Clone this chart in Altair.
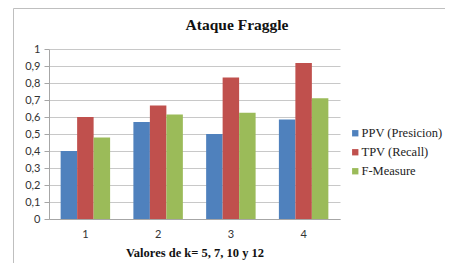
import altair as alt
import pandas as pd

categories = ["1", "2", "3", "4"]
series = ["PPV (Presicion)", "TPV (Recall)", "F-Measure"]
ppv = [0.40, 0.57, 0.50, 0.585]
tpv = [0.60, 0.667, 0.833, 0.917]
fmeasure = [0.48, 0.615, 0.625, 0.71]
colors = ["#4F81BD", "#C0504D", "#9BBB59"]
chart_title = "Ataque Fraggle"

SERIF = "'Liberation Serif', 'Times New Roman', 'DejaVu Serif', serif"

rows = []
for s, vals in zip(series, [ppv, tpv, fmeasure]):
    for c, v in zip(categories, vals):
        rows.append({"k": c, "serie": s, "valor": v})
df = pd.DataFrame(rows)

W, H = 291, 170

bars = alt.Chart(df).mark_bar().encode(
    x=alt.X("k:N", sort=categories,
            scale=alt.Scale(paddingInner=0.32, paddingOuter=0.16),
            axis=alt.Axis(title="Valores de k= 5, 7, 10 y 12", labelAngle=0,
                          labelFont="Lato", labelFontSize=11, labelColor="#333333",
                          labelPadding=9, ticks=False, domainColor="#A6A6A6",
                          titleFont=SERIF, titleFontSize=12.5,
                          titleFontWeight="bold", titleColor="#111111", titlePadding=7)),
    xOffset=alt.XOffset("serie:N", sort=series),
    y=alt.Y("valor:Q", scale=alt.Scale(domain=[0, 1]),
            axis=alt.Axis(title=None, values=[i / 10 for i in range(11)],
                          labelExpr="replace(format(datum.value, '.1~f'), '.', ',')",
                          labelFont="Lato", labelFontSize=11, labelColor="#333333",
                          labelPadding=4, tickSize=5, tickColor="#A6A6A6",
                          domainColor="#A6A6A6", gridColor="#C8C8C8")),
    color=alt.Color("serie:N", sort=series,
                    scale=alt.Scale(domain=series, range=colors),
                    legend=alt.Legend(title=None, orient="none", legendX=300, legendY=78,
                                      symbolType="square", symbolSize=40,
                                      symbolStrokeWidth=0, labelFont=SERIF,
                                      labelFontSize=12.5, labelColor="#222222",
                                      rowPadding=6, labelOffset=0, labelLimit=200)),
)

border = alt.Chart(pd.DataFrame({"a": [0]})).mark_rect(
    fill=None, stroke="#BFBFBF", strokeWidth=1
).encode(
    x=alt.value(-35.5), x2=alt.value(W + 200),
    y=alt.value(-40.5), y2=alt.value(H + 200),
)

title = alt.Chart(pd.DataFrame({"t": [chart_title]})).mark_text(
    font=SERIF, fontSize=15.5, fontWeight="bold", color="#111111",
    align="center", baseline="alphabetic"
).encode(
    text="t:N", x=alt.value(188), y=alt.value(-19),
)

chart = alt.layer(border, title, bars).properties(
    width=W, height=H,
    autosize=alt.AutoSizeParams(type="none"),
    padding={"left": 41, "top": 41, "right": 105, "bottom": 44},
).configure_view(stroke=None).configure_legend(labelFont=SERIF)

chart.save("out.html", embed_options={"renderer": "svg", "actions": False})
